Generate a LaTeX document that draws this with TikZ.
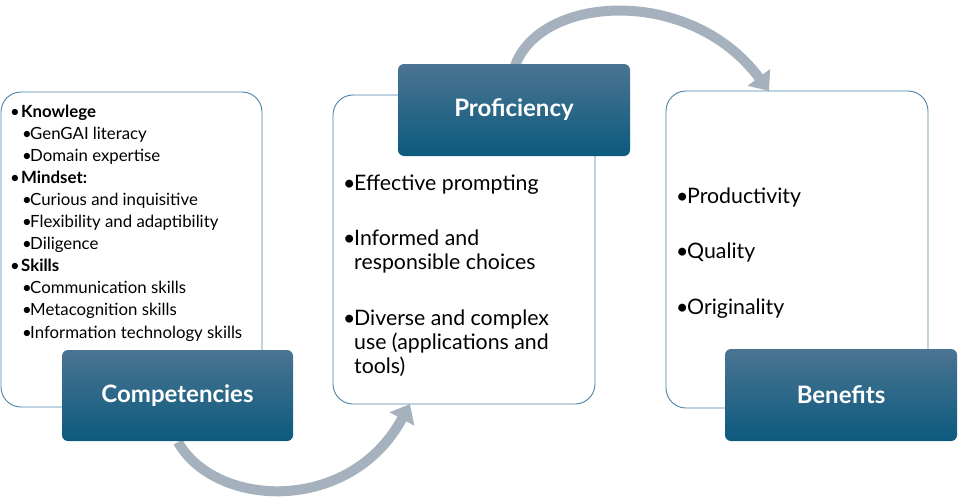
\documentclass[tikz,border=0pt]{standalone}
\usepackage{fontspec}
\setmainfont{Lato}
\usetikzlibrary{arrows.meta}
\definecolor{edgeblue}{HTML}{4A82A8}
\definecolor{darktop}{HTML}{4B7492}
\definecolor{darkbot}{HTML}{0C5A7E}
\definecolor{arrowgray}{HTML}{A5B1BC}
\tikzset{
  whitebox/.style={draw=edgeblue, line width=0.9pt, fill=white, rounded corners=20pt, inner sep=0pt},
  titlebox/.style={rounded corners=6pt, top color=darktop, bottom color=darkbot, draw=none,
     text=white, font=\fontsize{24}{28}\selectfont\bfseries, inner sep=0pt},
  flowarrow/.style={draw=arrowgray, line width=10pt, -{Triangle[length=17pt,width=27pt]}},
  smalllist/.style={anchor=base west, inner sep=0pt, align=left, font=\fontsize{16.8}{22.1}\selectfont},
  biglist/.style={anchor=base west, inner sep=0pt, align=left, font=\fontsize{21.3}{24}\selectfont},
}
\newcommand{\bul}[1]{\makebox[#1][l]{•}}
\begin{document}
\begin{tikzpicture}[x=1pt,y=-1pt]
\useasboundingbox (0,0) rectangle (960,498);
% connectors
\coordinate (a1s) at (178,442);
\coordinate (a1e) at (410,404);
\coordinate (a2s) at (515,66);
\coordinate (a2e) at (769,91);
\draw[flowarrow] (a1s) .. controls (215,508) and (350,515) .. (a1e);
\draw[flowarrow] (a2s) .. controls (540,-5) and (690,-15) .. (a2e);
% boxes
\node[whitebox, minimum width=261pt, minimum height=315pt] (box1) at (131.5,249.5) {};
\node[whitebox, minimum width=262pt, minimum height=309pt] (box2) at (464,249.5) {};
\node[whitebox, minimum width=262pt, minimum height=317pt] (box3) at (797,249.5) {};
\node[titlebox, minimum width=231pt, minimum height=91pt] (comp) at (177.5,395.5) {Competencies};
\node[titlebox, minimum width=232pt, minimum height=92pt] (prof) at (514,110) {Proficiency};
\node[titlebox, minimum width=232pt, minimum height=92pt] (bene) at (841,395) {Benefits};
% texts (anchored at the baseline of the last line)
\node[smalllist] (list1) at (10,338) {%
\bul{11pt}\textbf{Knowlege}\\
\hspace*{12pt}\bul{8pt}GenGAI literacy\\
\hspace*{12pt}\bul{8pt}Domain expertise\\
\bul{11pt}\textbf{Mindset:}\\
\hspace*{12pt}\bul{8pt}Curious and inquisitive\\
\hspace*{12pt}\bul{8pt}Flexibility and adaptibility\\
\hspace*{12pt}\bul{8pt}Diligence\\
\bul{11pt}\textbf{Skills}\\
\hspace*{12pt}\bul{8pt}Communication skills\\
\hspace*{12pt}\bul{8pt}Metacognition skills\\
\hspace*{12pt}\bul{8pt}Information technology skills};
\node[biglist] (list2) at (343,373) {%
\bul{11pt}Effective prompting\\[31pt]
\bul{11pt}Informed and\\
\hspace*{11pt}responsible choices\\[32pt]
\bul{11pt}Diverse and complex\\
\hspace*{11pt}use (applications and\\
\hspace*{11pt}tools)};
\node[biglist] (list3) at (676,314) {%
\bul{11pt}Productivity\\[31.5pt]
\bul{11pt}Quality\\[31.5pt]
\bul{11pt}Originality};
\end{tikzpicture}
\end{document}
